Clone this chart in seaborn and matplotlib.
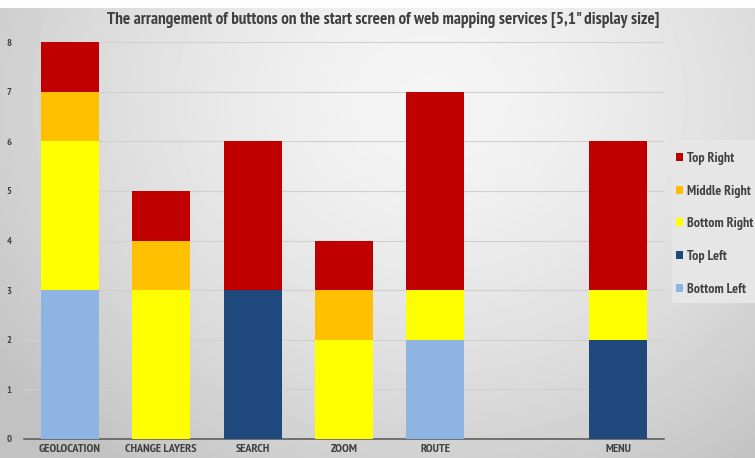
import numpy as np
import pandas as pd
import matplotlib
matplotlib.use("Agg")
import matplotlib.pyplot as plt
from matplotlib.patches import Rectangle
import seaborn as sns

# Button placement counts per service function
categories = ["GEOLOCATION", "CHANGE LAYERS", "SEARCH", "ZOOM", "ROUTE", " ", "MENU"]
bottom_left = [3, 0, 0, 0, 2, 0, 0]
top_left = [0, 0, 3, 0, 0, 0, 2]
bottom_right = [3, 3, 0, 2, 1, 0, 1]
middle_right = [1, 1, 0, 1, 0, 0, 0]
top_right = [1, 1, 3, 1, 4, 0, 3]

series_names = ["Bottom Left", "Top Left", "Bottom Right", "Middle Right", "Top Right"]
series_values = [bottom_left, top_left, bottom_right, middle_right, top_right]
series_colors = ["#8DB4E2", "#1F497D", "#FFFF00", "#FFC000", "#C00000"]

sns.set_theme(style="white")
plt.rcParams["font.family"] = ["PT Sans Narrow", "Roboto Condensed", "DejaVu Sans"]
plt.rcParams["font.weight"] = "bold"

W, H = 755, 458
fig = plt.figure(figsize=(W / 100, H / 100), dpi=100)

# soft radial grey backdrop
bg = fig.add_axes([0, 0, 1, 1], zorder=-10)
yy, xx = np.mgrid[0:H, 0:W]
r = np.sqrt((xx - 430) ** 2 + ((yy - 100) / 0.85) ** 2)
shade = np.clip(0.96 - 0.17 * (r / 480) ** 1.5, 0.76, 1.0)
shade[:8, :] = 0.99
bg.imshow(shade, cmap="gray", vmin=0, vmax=1, aspect="auto", extent=[0, W, H, 0])
bg.set_xlim(0, W)
bg.set_ylim(H, 0)
bg.set_axis_off()
# lighter panel behind the legend
bg.add_patch(Rectangle((672, 140), 90, 163, facecolor="#e6e6e6", edgecolor="none"))

ax = fig.add_axes([24 / W, 1 - 439 / H, (664 - 24) / W, (439 - 42) / H])
ax.set_facecolor("none")

df = pd.DataFrame({"category": categories})
cum = np.cumsum(np.array(series_values), axis=0)
# cumulative heights drawn tallest first, so each layer shows its own segment
for name, color, heights in reversed(list(zip(series_names, series_colors, cum))):
    df["value"] = heights
    sns.barplot(data=df, x="category", y="value", order=categories, color=color,
                width=0.635, saturation=1, ax=ax, label=name, zorder=3, linewidth=0)
if ax.get_legend() is not None:
    ax.get_legend().remove()

ax.set_ylim(0, 8)
ax.set_xlim(-0.5, len(categories) - 0.5)
ax.set_yticks(range(0, 9))
ax.set_xlabel("")
ax.set_ylabel("")
ax.grid(axis="y", color="#d0d0d0", linewidth=0.8, zorder=0)
ax.set_axisbelow(True)
for s in ["top", "right", "left"]:
    ax.spines[s].set_visible(False)
ax.spines["bottom"].set_color("#555555")
ax.spines["bottom"].set_linewidth(1.1)
ax.tick_params(axis="x", length=0, labelsize=8.8, colors="#404040", pad=3.5)
ax.tick_params(axis="y", length=0, labelsize=7.5, colors="#404040", pad=9)

fig.text(383 / W, 1 - 20 / H,
         "The arrangement of buttons on the start screen of web mapping services [5,1\" display size]",
         ha="center", va="center", fontsize=12.3, color="#404040", fontweight="bold")

handles, labels = ax.get_legend_handles_labels()
leg = fig.legend(handles, labels, loc="upper left", bbox_to_anchor=(673 / W, 1 - 149 / H),
                 frameon=False, fontsize=10, handlelength=0.5, handleheight=0.5,
                 handletextpad=0.3, labelspacing=1.42, borderpad=0.2, borderaxespad=0,
                 labelcolor="#404040")

fig.savefig("out.png", dpi=100)
